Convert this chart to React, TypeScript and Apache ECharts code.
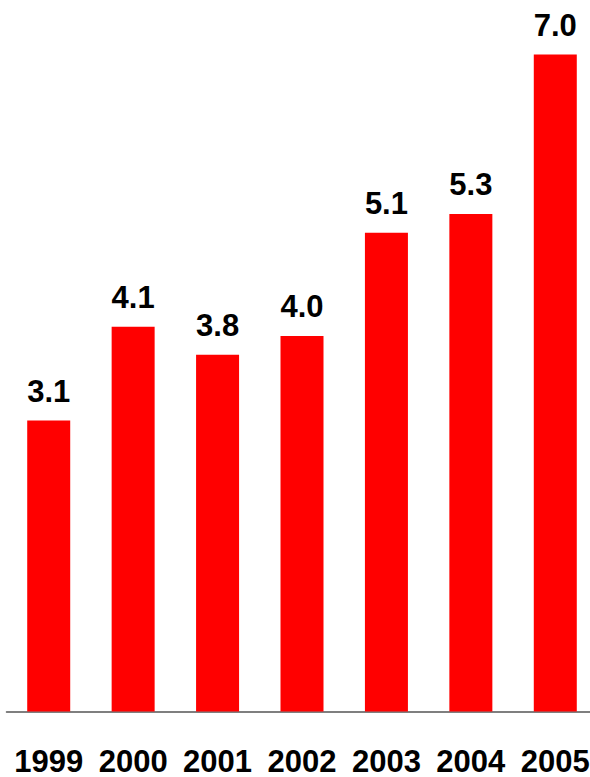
import React, { useEffect, useRef } from "react";
import * as echarts from "echarts";

const years = ["1999", "2000", "2001", "2002", "2003", "2004", "2005"];
const values = [3.1, 4.1, 3.8, 4.0, 5.1, 5.3, 7.0];

export default function App() {
  const ref = useRef<HTMLDivElement>(null);
  useEffect(() => {
    if (!ref.current) return;
    const chart = echarts.init(ref.current, null, { renderer: "svg" });
    chart.setOption({
      animation: false,
      backgroundColor: "#ffffff",
      grid: { left: 6.5, width: 591, top: 7.6, bottom: 64, containLabel: false },
      xAxis: {
        type: "category",
        data: years,
        axisTick: { show: false },
        axisLine: { show: true, lineStyle: { color: "#555555", width: 1.5 } },
        axisLabel: {
          margin: 38,
          interval: 0,
          fontSize: 31,
          lineHeight: 24,
          fontWeight: "bold",
          color: "#000000",
          fontFamily: "Liberation Sans, Arial, sans-serif",
        },
      },
      yAxis: {
        type: "value",
        min: 0,
        max: 7.5,
        show: false,
        splitLine: { show: false },
      },
      series: [
        {
          type: "bar",
          data: values,
          barWidth: 43,
          itemStyle: { color: "#ff0000" },
          label: {
            show: true,
            position: "top",
            distance: 14,
            fontSize: 31,
            fontWeight: "bold",
            color: "#000000",
            fontFamily: "Liberation Sans, Arial, sans-serif",
            formatter: (p: any) => Number(p.value).toFixed(1),
          },
        },
      ],
    });
    return () => chart.dispose();
  }, []);
  return (
    <div
      style={{
        position: "absolute",
        left: 0,
        top: 0,
        width: 590,
        height: 777,
        overflow: "hidden",
        background: "#ffffff",
      }}
    >
      <div ref={ref} style={{ width: 600, height: 777 }} />
    </div>
  );
}
